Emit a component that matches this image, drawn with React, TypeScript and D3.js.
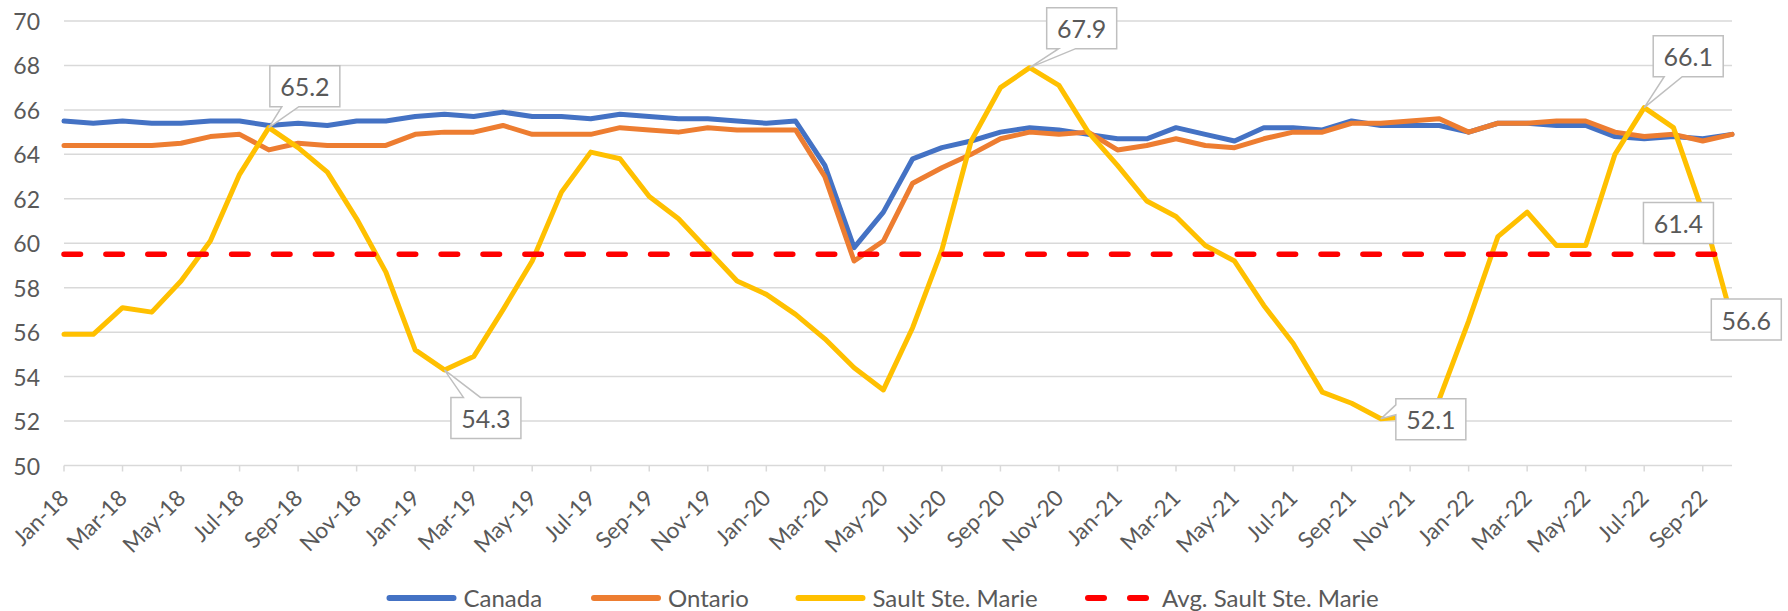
import React from 'react';
import * as d3 from 'd3';

const months = [
  'Jan-18', 'Feb-18', 'Mar-18', 'Apr-18', 'May-18', 'Jun-18', 'Jul-18', 'Aug-18', 'Sep-18', 'Oct-18', 'Nov-18', 'Dec-18',
  'Jan-19', 'Feb-19', 'Mar-19', 'Apr-19', 'May-19', 'Jun-19', 'Jul-19', 'Aug-19', 'Sep-19', 'Oct-19', 'Nov-19', 'Dec-19',
  'Jan-20', 'Feb-20', 'Mar-20', 'Apr-20', 'May-20', 'Jun-20', 'Jul-20', 'Aug-20', 'Sep-20', 'Oct-20', 'Nov-20', 'Dec-20',
  'Jan-21', 'Feb-21', 'Mar-21', 'Apr-21', 'May-21', 'Jun-21', 'Jul-21', 'Aug-21', 'Sep-21', 'Oct-21', 'Nov-21', 'Dec-21',
  'Jan-22', 'Feb-22', 'Mar-22', 'Apr-22', 'May-22', 'Jun-22', 'Jul-22', 'Aug-22', 'Sep-22', 'Oct-22'
];

const canada = [
  65.5, 65.4, 65.5, 65.4, 65.4, 65.5, 65.5, 65.3, 65.4, 65.3,
  65.5, 65.5, 65.7, 65.8, 65.7, 65.9, 65.7, 65.7, 65.6, 65.8,
  65.7, 65.6, 65.6, 65.5, 65.4, 65.5, 63.5, 59.8, 61.4, 63.8,
  64.3, 64.6, 65.0, 65.2, 65.1, 64.9, 64.7, 64.7, 65.2, 64.9,
  64.6, 65.2, 65.2, 65.1, 65.5, 65.3, 65.3, 65.3, 65.0, 65.4,
  65.4, 65.3, 65.3, 64.8, 64.7, 64.8, 64.7, 64.9
];

const ontario = [
  64.4, 64.4, 64.4, 64.4, 64.5, 64.8, 64.9, 64.2, 64.5, 64.4,
  64.4, 64.4, 64.9, 65.0, 65.0, 65.3, 64.9, 64.9, 64.9, 65.2,
  65.1, 65.0, 65.2, 65.1, 65.1, 65.1, 63.0, 59.2, 60.1, 62.7,
  63.4, 64.0, 64.7, 65.0, 64.9, 65.0, 64.2, 64.4, 64.7, 64.4,
  64.3, 64.7, 65.0, 65.0, 65.4, 65.4, 65.5, 65.6, 65.0, 65.4,
  65.4, 65.5, 65.5, 65.0, 64.8, 64.9, 64.6, 64.9
];

const saultSteMarie = [
  55.9, 55.9, 57.1, 56.9, 58.3, 60.1, 63.1, 65.2, 64.3, 63.2,
  61.1, 58.7, 55.2, 54.3, 54.9, 57.0, 59.2, 62.3, 64.1, 63.8,
  62.1, 61.1, 59.7, 58.3, 57.7, 56.8, 55.7, 54.4, 53.4, 56.2,
  59.7, 64.6, 67.0, 67.9, 67.1, 65.0, 63.5, 61.9, 61.2, 59.9,
  59.2, 57.2, 55.5, 53.3, 52.8, 52.1, 52.2, 53.0, 56.5, 60.3,
  61.4, 59.9, 59.9, 64.0, 66.1, 65.2, 61.4, 56.6
];

const avgSaultSteMarie = 59.5;

const yTicks = [50, 52, 54, 56, 58, 60, 62, 64, 66, 68, 70];

// which Sault Ste. Marie points carry a value label
const labelledPoints = [7, 13, 33, 45, 54, 56, 57];

// callout placement relative to the point: box offset and wedge side
const calloutLayout: Record<number, { dx: number; dy: number; wedge?: string; w1?: number; w2?: number }> = {
  7: { dx: 1, dy: -62, wedge: 'bottom', w1: 13, w2: 30 },
  13: { dx: 6.5, dy: 27.5, wedge: 'top', w1: 19, w2: 36 },
  33: { dx: 17, dy: -60, wedge: 'bottom', w1: 29, w2: 46 },
  45: { dx: 15, dy: -20, wedge: 'left', w1: -14, w2: -4 },
  54: { dx: 9, dy: -72, wedge: 'bottom', w1: 20, w2: 38 },
  56: { dx: -59.3, dy: -9.6 },
  57: { dx: -20.7, dy: -19.7 },
};

const W = 1788;
const H = 611;
const left = 64;
const right = 1732;
const top = 21;
const bottom = 465.5;
const font = 'Lato, "Open Sans", sans-serif';
const textColor = '#595959';
const gridColor = '#d9d9d9';

const colors = { canada: '#4472C4', ontario: '#ED7D31', sault: '#FFC000', avg: '#FF0000' };

const BOX_W = 70;
const BOX_H = 41;

function calloutPath(px: number, py: number, c: any) {
  const x0 = px + c.dx;
  const y0 = py + c.dy;
  const x1 = x0 + BOX_W;
  const y1 = y0 + BOX_H;
  if (c.wedge === 'bottom') {
    return `M${x0},${y0}H${x1}V${y1}H${px + c.w2}L${px},${py}L${px + c.w1},${y1}H${x0}Z`;
  }
  if (c.wedge === 'top') {
    return `M${x0},${y0}H${px + c.w1}L${px},${py}L${px + c.w2},${y0}H${x1}V${y1}H${x0}Z`;
  }
  if (c.wedge === 'left') {
    return `M${x0},${y0}H${x1}V${y1}H${x0}V${py + c.w2}L${px},${py}L${x0},${py + c.w1}Z`;
  }
  return `M${x0},${y0}H${x1}V${y1}H${x0}Z`;
}

const App = () => {
  const x = d3.scalePoint<string>().domain(months).range([left, right]);
  const y = d3.scaleLinear().domain([50, 70]).range([bottom, top]);

  const line = d3.line<number>()
    .x((_, i) => x(months[i]) as number)
    .y(d => y(d));

  const avgSeries = months.map(() => avgSaultSteMarie);

  const legend = [
    { name: 'Canada', color: colors.canada, x: 386.5, dash: false },
    { name: 'Ontario', color: colors.ontario, x: 591, dash: false },
    { name: 'Sault Ste. Marie', color: colors.sault, x: 795.5, dash: false },
    { name: 'Avg. Sault Ste. Marie', color: colors.avg, x: 1085, dash: true },
  ];

  return (
    <div style={{ position: 'absolute', left: 0, top: 0 }}>
      <svg width={W} height={H} style={{ display: 'block', background: '#fff' }}>
        {/* gridlines */}
        {yTicks.map(t => (
          <line key={t} x1={left} x2={right} y1={y(t)} y2={y(t)} stroke={gridColor} strokeWidth={1.5} />
        ))}
        {yTicks.map(t => (
          <text key={'yl' + t} x={40} y={y(t)} textAnchor="end" dominantBaseline="central"
            fontFamily={font} fontSize={23} fill={textColor}>{t}</text>
        ))}

        {/* category ticks and labels */}
        {months.map((m, i) => i % 2 === 0 && (
          <g key={m}>
            <line x1={x(m)} x2={x(m)} y1={bottom} y2={bottom + 6} stroke={gridColor} strokeWidth={1.5} />
            <text transform={`translate(${(x(m) as number) + 6},${bottom + 34}) rotate(-45)`}
              textAnchor="end" fontFamily={font} fontSize={22.5} fill={textColor}>{m}</text>
          </g>
        ))}

        <path d={line(canada) as string} fill="none" stroke={colors.canada} strokeWidth={5} strokeLinejoin="round" strokeLinecap="round" />
        <path d={line(ontario) as string} fill="none" stroke={colors.ontario} strokeWidth={5} strokeLinejoin="round" strokeLinecap="round" />
        <path d={line(saultSteMarie) as string} fill="none" stroke={colors.sault} strokeWidth={5} strokeLinejoin="round" strokeLinecap="round" />
        <path d={line(avgSeries) as string} fill="none" stroke={colors.avg} strokeWidth={5.5} strokeLinecap="round" strokeDasharray="16.5 25.4" />

        {/* value callouts */}
        {labelledPoints.map(i => {
          const px = x(months[i]) as number;
          const py = y(saultSteMarie[i]);
          const c = calloutLayout[i];
          return (
            <g key={'c' + i}>
              <path d={calloutPath(px, py, c)} fill="#fff" stroke="#bfbfbf" strokeWidth={1.5} />
              <text x={px + c.dx + BOX_W / 2} y={py + c.dy + BOX_H / 2} textAnchor="middle" dominantBaseline="central"
                fontFamily={font} fontSize={25} fill={textColor}>{saultSteMarie[i].toFixed(1)}</text>
            </g>
          );
        })}

        {/* legend */}
        {legend.map(l => (
          <g key={l.name}>
            {l.dash ? (
              <g>
                <line x1={l.x + 3} x2={l.x + 19} y1={598} y2={598} stroke={l.color} strokeWidth={6} strokeLinecap="round" />
                <line x1={l.x + 45} x2={l.x + 61} y1={598} y2={598} stroke={l.color} strokeWidth={6} strokeLinecap="round" />
              </g>
            ) : (
              <line x1={l.x + 3} x2={l.x + 67} y1={598} y2={598} stroke={l.color} strokeWidth={6} strokeLinecap="round" />
            )}
            <text x={l.x + 77} y={597} dominantBaseline="central" fontFamily={font} fontSize={24} fill={textColor}>{l.name}</text>
          </g>
        ))}
      </svg>
    </div>
  );
};

export default App;
